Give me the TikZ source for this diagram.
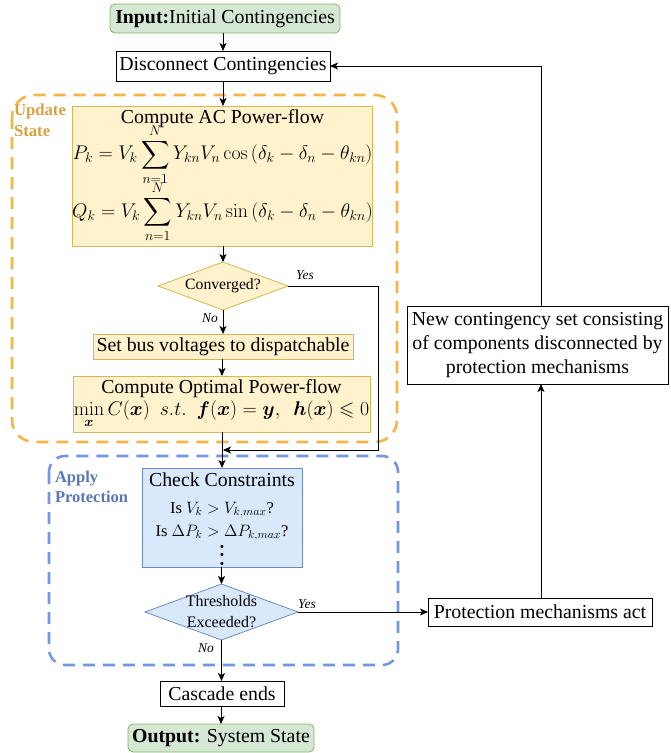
\RequirePackage{fix-cm}
\documentclass[tikz,border=0pt]{standalone}
\usepackage{amsmath,amssymb,bm}
\usepackage[no-math]{fontspec}
\setmainfont{Liberation Serif}
\usetikzlibrary{shapes.geometric,arrows.meta}
\newcommand\myfs[2]{\fontsize{#1}{#2}\selectfont}
\definecolor{grfill}{HTML}{D5E8D4}
\definecolor{grline}{HTML}{82B366}
\definecolor{yfill}{HTML}{FFF2CC}
\definecolor{yline}{HTML}{D6B656}
\definecolor{bfill}{HTML}{DAE8FC}
\definecolor{bline}{HTML}{6C8EBF}
\definecolor{orgdash}{HTML}{F5B446}
\definecolor{orgtext}{HTML}{D9A040}
\definecolor{bluedash}{HTML}{7396E0}
\definecolor{bluetext}{HTML}{5B76B5}
\begin{document}
\begin{tikzpicture}[x=1pt,y=-1pt,
  every node/.style={inner sep=0pt,outer sep=0pt},
  box/.style={draw=black,fill=white,line width=0.8pt,minimum width=#1,align=center,font=\myfs{19.8}{24}},
  greenbox/.style={draw=grline,fill=grfill,line width=0.8pt,rounded corners=5pt,minimum width=#1,align=center,font=\myfs{19.8}{24}},
  ybox/.style={draw=yline,fill=yfill,line width=0.8pt,minimum width=#1,align=center,font=\myfs{19.8}{24}},
  bbox/.style={draw=bline,fill=bfill,line width=0.8pt,minimum width=#1,align=center,font=\myfs{19.8}{24}},
  ydia/.style={diamond,draw=yline,fill=yfill,line width=0.8pt},
  bdia/.style={diamond,draw=bline,fill=bfill,line width=0.8pt},
  conn/.style={draw=black,line width=0.8pt},
  arr/.style={conn,-{Stealth[length=8pt,width=7pt,inset=2pt]}},
  lbl/.style={font=\myfs{13.5}{15}\itshape},
  region/.style={line width=2.6pt,dash pattern=on 12pt off 8pt}
]
\useasboundingbox (0,0) rectangle (670,753);

% dashed regions
\draw[region,draw=orgdash,rounded corners=22pt] (12,95) rectangle (397,442);
\draw[region,draw=bluedash,rounded corners=16pt] (49,456) rectangle (398,665);
\node[anchor=north west,align=left,text=orgtext,font=\myfs{16.7}{21}\bfseries] (lup) at (14,104) {Update\\State};
\node[anchor=north west,align=left,text=bluetext,font=\myfs{16.5}{20}\bfseries] (lap) at (55,471) {Apply\\Protection};

% nodes
\node[greenbox=230pt,minimum height=29pt] (in) at (225,18.5) {\textbf{Input:}Initial Contingencies};
\node[box=214pt,minimum height=30pt] (disc) at (223,66) {Disconnect Contingencies};
\node[ybox=299pt,minimum height=140pt] (ac) at (222.5,176) {Compute AC Power-flow\\[-5pt]
  $\displaystyle P_k = V_k\sum_{n=1}^{N} Y_{kn}V_n\cos\left(\delta_k-\delta_n-\theta_{kn}\right)$\\[-5pt]
  $\displaystyle Q_k = V_k\sum_{n=1}^{N} Y_{kn}V_n\sin\left(\delta_k-\delta_n-\theta_{kn}\right)$};
\node[ydia,minimum width=130pt,minimum height=48pt] (conv) at (223,286) {};
\node[font=\myfs{15.7}{18}] (convt) at (223,286) {Converged?};
\node[ybox=260pt,minimum height=25pt] (bus) at (223,346.5) {Set bus voltages to dispatchable};
\node[ybox=297pt,minimum height=56pt] (opf) at (221.5,404) {Compute Optimal Power-flow\\[-2pt]
  $\min\limits_{\bm{x}} C(\bm{x})\ \ s.t.\ \ \bm{f}(\bm{x})=\bm{y},\ \ \bm{h}(\bm{x})\leqslant 0$};
\node[bbox=160pt,minimum height=99pt,anchor=north] (cc) at (222,468) {};
\node[anchor=north,align=center,font=\myfs{19.8}{24}] (cct) at (222,473) {Check Constraints};
\node[anchor=north,align=center,font=\myfs{16.5}{23}] (ccm) at (222,502) {Is $V_k > V_{k,max}$?\\
  Is $\Delta P_k > \Delta P_{k,max}$?};
\node[align=center,font=\myfs{20}{8.5}] (ccd) at (222,555) {$\bm{.}$\\$\bm{.}$\\$\bm{.}$};
\node[bdia,minimum width=153pt,minimum height=56pt] (thr) at (221.5,612) {};
\node[align=center,font=\myfs{16}{21}] (thrt) at (221.5,612) {Thresholds\\Exceeded?};
\node[box=224pt,minimum height=28pt] (pma) at (540,612) {Protection mechanisms act};
\node[box=124pt,minimum height=25pt] (cas) at (222,693.5) {Cascade ends};
\node[greenbox=186pt,minimum height=28pt] (out) at (221,738) {\textbf{Output:} System State};
\node[box=261pt,minimum height=78pt] (newc) at (537.5,345) {New contingency set consisting\\of components disconnected by\\protection mechanisms};

% labels
\node[lbl] (yes1) at (305,275) {Yes};
\node[lbl] (no1) at (210,318) {No};
\node[lbl] (yes2) at (307,604) {Yes};
\node[lbl] (no2) at (206,648) {No};

% connectors
\coordinate (c1) at (378,286);
\coordinate (c2) at (378,450);
\coordinate (c3) at (223,450);
\coordinate (c4) at (541,66);
\draw[arr] (in.south -| disc.north) -- (disc.north);
\draw[arr] (disc.south) -- (disc.south |- ac.north);
\draw[arr] (ac.south -| conv.north) -- (conv.north);
\draw[arr] (conv.south) -- (conv.south |- bus.north);
\draw[arr] (bus.south -| 222,0) -- (222,376);
\draw[arr] (222,432) -- (cc.north);
\draw[arr] (conv.east) -- (c1) -- (c2) -- (c3);
\draw[arr] (cc.south -| thr.north) -- (thr.north);
\draw[arr] (thr.east) -- (pma.west);
\draw[arr] (thr.south) -- (thr.south |- cas.north);
\draw[arr] (cas.south -| out.north) -- (out.north);
\draw[arr] (pma.north -| 541,0) -- (541,384);
\draw[arr] (541,306) -- (c4) -- (disc.east);
\end{tikzpicture}
\end{document}
